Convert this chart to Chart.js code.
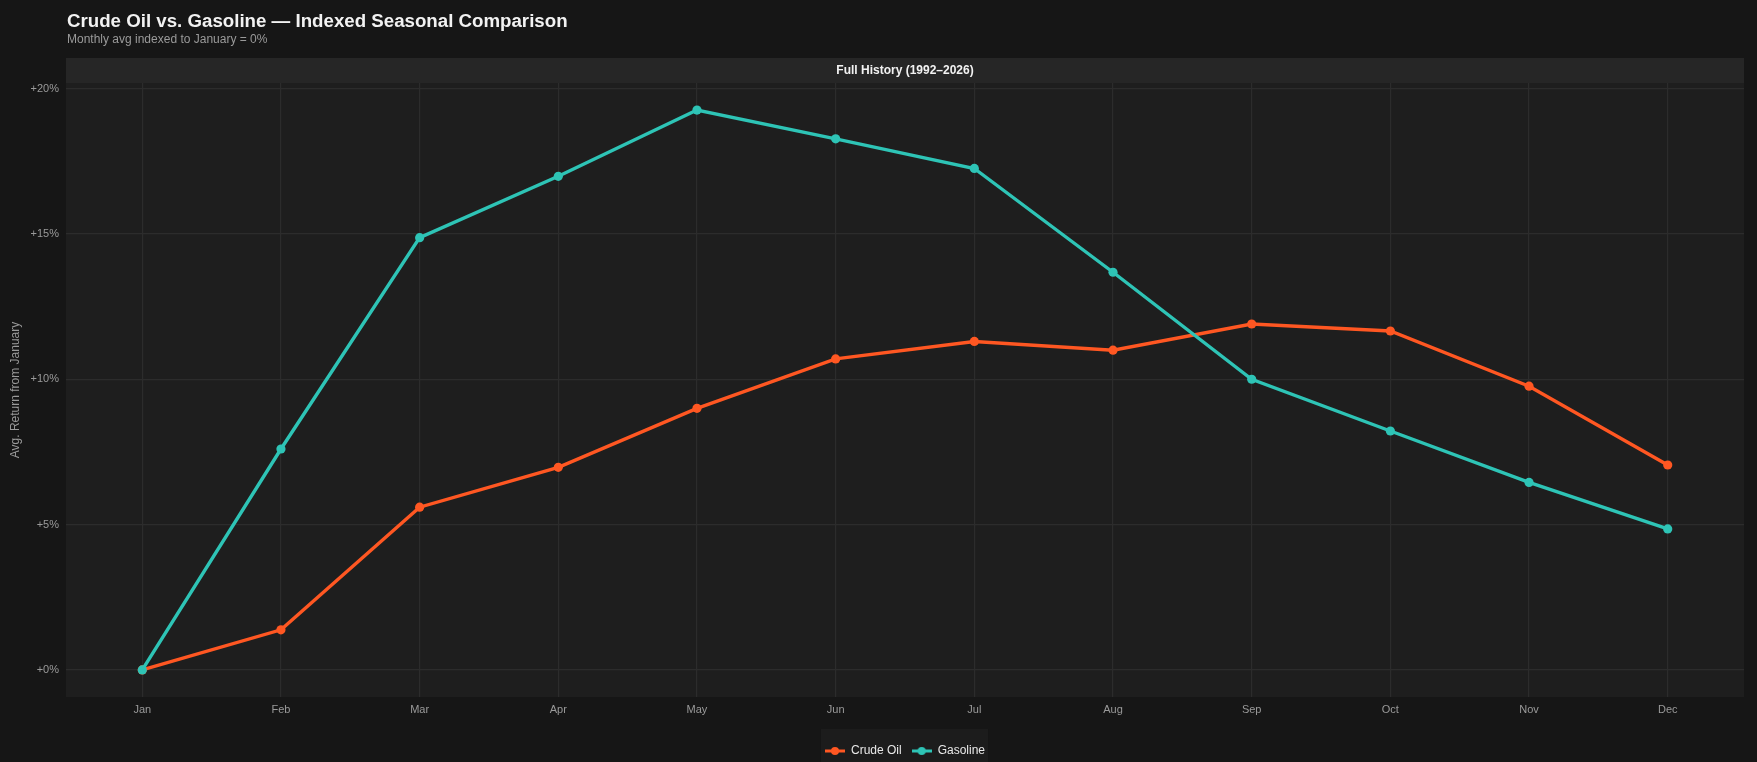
<!DOCTYPE html>
<html>
<head>
<meta charset="utf-8">
<script src="https://cdn.jsdelivr.net/npm/chart.js@4.4.1/dist/chart.umd.min.js"></script>
<style>
  html, body { margin: 0; padding: 0; background: #161616; }
  #wrap { position: relative; width: 1757px; height: 762px; overflow: hidden; }
  #title { position: absolute; left: 67px; top: 10px; line-height: 1; color: #f2f2f2; font: bold 18.7px "Liberation Sans", Arial, sans-serif; }
  #subtitle { position: absolute; left: 67px; top: 32px; line-height: 1; color: #9a9a9a; font: 12px "Liberation Sans", Arial, sans-serif; }
  canvas { position: absolute; left: 0; top: 0; }
</style>
</head>
<body>
<div id="wrap">
  <canvas id="seasonChart" width="1757" height="762"></canvas>
  <div id="title">Crude Oil vs. Gasoline — Indexed Seasonal Comparison</div>
  <div id="subtitle">Monthly avg indexed to January = 0%</div>
</div>
<script>
const months = ["Jan", "Feb", "Mar", "Apr", "May", "Jun", "Jul", "Aug", "Sep", "Oct", "Nov", "Dec"];
const crudeOil = [0, 1.38, 5.6, 6.97, 9.0, 10.7, 11.3, 11.0, 11.9, 11.66, 9.76, 7.05];
const gasoline = [0, 7.6, 14.87, 16.98, 19.26, 18.27, 17.25, 13.68, 10.0, 8.22, 6.45, 4.85];
const yTicks = [0, 5, 10, 15, 20];
const panelTitle = "Full History (1992–2026)";
const yTitle = "Avg. Return from January";

const crudeColor = "#FF5722";
const gasColor = "#2EC4B6";
const font = "'Liberation Sans', Arial, sans-serif";

// legend key: short line with a dot, like the ggplot key
function swatch(color) {
  const c = document.createElement("canvas");
  c.width = 20; c.height = 12;
  const ctx = c.getContext("2d");
  ctx.strokeStyle = color; ctx.lineWidth = 3;
  ctx.beginPath(); ctx.moveTo(0, 6); ctx.lineTo(20, 6); ctx.stroke();
  ctx.fillStyle = color;
  ctx.beginPath(); ctx.arc(10, 6, 4, 0, Math.PI * 2); ctx.fill();
  return c;
}

const panelPlugin = {
  id: "panel",
  afterLayout(chart) {
    // centre the legend under the panel, not the whole canvas
    const lg = chart.legend, a = chart.chartArea;
    const shift = (a.left + a.right) / 2 - (lg.left + lg.right) / 2;
    lg.left += shift;
    lg.right += shift;
  },
  beforeDraw(chart) {
    const { ctx, chartArea: a } = chart;
    ctx.save();
    ctx.fillStyle = "#1e1e1e";
    ctx.fillRect(a.left, a.top, a.right - a.left, a.bottom - a.top);
    ctx.fillStyle = "#262626";
    ctx.fillRect(a.left, a.top - 25, a.right - a.left, 25);
    ctx.fillStyle = "#f2f2f2";
    ctx.font = "bold 12px " + font;
    ctx.textAlign = "center";
    ctx.textBaseline = "middle";
    ctx.fillText(panelTitle, (a.left + a.right) / 2, a.top - 12.5);

    ctx.save();
    ctx.translate(15.7, (a.top + a.bottom) / 2);
    ctx.rotate(-Math.PI / 2);
    ctx.fillStyle = "#9a9a9a";
    ctx.font = "12px " + font;
    ctx.fillText(yTitle, 0, 0);
    ctx.restore();

    const boxes = chart.legend.legendHitBoxes;
    if (boxes && boxes.length) {
      const l = Math.min(...boxes.map(b => b.left)) - 4;
      const r = Math.max(...boxes.map(b => b.left + b.width)) + 3;
      ctx.fillStyle = "#1c1c1c";
      ctx.fillRect(l, 729, r - l, 40);
    }
    ctx.restore();
  }
};

new Chart(document.getElementById("seasonChart"), {
  type: "line",
  data: {
    datasets: [
      { label: "Crude Oil", order: 1, data: crudeOil.map((v, i) => ({ x: i, y: v })), borderColor: crudeColor, backgroundColor: crudeColor, borderWidth: 3.4, pointRadius: 4.6, pointBorderWidth: 0, tension: 0 },
      { label: "Gasoline", order: 0, data: gasoline.map((v, i) => ({ x: i, y: v })), borderColor: gasColor, backgroundColor: gasColor, borderWidth: 3.4, pointRadius: 4.6, pointBorderWidth: 0, tension: 0 }
    ]
  },
  options: {
    responsive: false,
    animation: false,
    layout: { padding: { left: 0, top: 83, right: 13, bottom: -5 } },
    plugins: {
      tooltip: { enabled: false },
      legend: {
        position: "bottom",
        labels: {
          color: "#e8e8e8",
          font: { family: font, size: 12 },
          usePointStyle: true,
          pointStyleWidth: 20,
          padding: 10,
          sort: (a, b) => a.datasetIndex - b.datasetIndex,
          generateLabels(chart) {
            return Chart.defaults.plugins.legend.labels.generateLabels(chart).map((item) => {
              item.pointStyle = swatch(item.datasetIndex === 0 ? crudeColor : gasColor);
              return item;
            });
          }
        }
      }
    },
    scales: {
      x: {
        type: "linear",
        min: -0.55,
        max: 11.55,
        afterBuildTicks(scale) { scale.ticks = months.map((m, i) => ({ value: i })); },
        afterFit(scale) { scale.height = 38; },
        ticks: { color: "#9a9a9a", font: { family: font, size: 11 }, padding: 6.5, callback: (v) => months[v] },
        grid: { color: "#2c2c2c", lineWidth: 1.2, drawTicks: false },
        border: { display: false }
      },
      y: {
        min: -0.93,
        max: 20.19,
        afterBuildTicks(scale) { scale.ticks = yTicks.map(v => ({ value: v })); },
        afterFit(scale) { scale.width = 66; },
        ticks: { color: "#9a9a9a", font: { family: font, size: 11 }, padding: 7, callback: (v) => "+" + v + "%" },
        grid: { color: "#2c2c2c", lineWidth: 1.2, drawTicks: false },
        border: { display: false }
      }
    }
  },
  plugins: [panelPlugin]
});
</script>
</body>
</html>
